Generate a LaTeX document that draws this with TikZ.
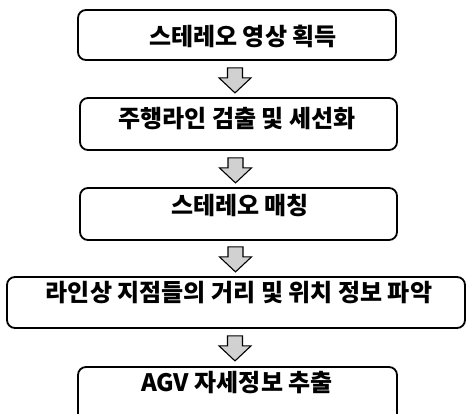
\documentclass[tikz,border=0pt]{standalone}
\usepackage{fontspec}
\newfontfamily\kr{Noto Sans CJK KR}
\usetikzlibrary{calc}
\begin{document}
\begin{tikzpicture}[x=1pt,y=-1pt,
  stepbox/.style={draw=black,line width=1.8pt,rounded corners=8pt,inner sep=0pt,minimum height=51pt},
  label/.style={font=\kr\bfseries\fontsize{24}{24}\selectfont,inner sep=0pt,anchor=center},
  arrowst/.style={draw=black,line width=1.1pt,fill=black!18,line join=miter},
  downarrow/.pic={\draw[arrowst] (-7.5,0) -- (7.5,0) -- (7.5,10) -- (16,10) -- (0,25) -- (-16,10) -- (-7.5,10) -- cycle;}]
\clip (0,0) rectangle (467,414);
\fill[white] (0,0) rectangle (467,414);
\node[stepbox,minimum width=318pt,minimum height=50pt] (b1) at (237,35) {};
\node[stepbox,minimum width=317pt,minimum height=52pt] (b2) at (238.5,124) {};
\node[stepbox,minimum width=317pt,minimum height=52pt] (b3) at (238.5,214) {};
\node[stepbox,minimum width=458pt,minimum height=51pt] (b4) at (236,302.5) {};
\node[stepbox,minimum width=319pt,minimum height=70pt] (b5) at (237.5,402) {};
\node[label] (t1) at (243,36) {스테레오 영상 획득};
\node[label] (t2) at (237,119) {주행라인 검출 및 세선화};
\node[label] (t3) at (240,206) {스테레오 매칭};
\node[label] (t4) at (239,293) {라인상 지점들의 거리 및 위치 정보 파악};
\node[label] (t5) at (237,383) {AGV 자세정보 추출};
\path ($(b1.south)+(-2,7)$) pic {downarrow};
\path ($(b2.south)+(-3,7)$) pic {downarrow};
\path ($(b3.south)+(-3,6)$) pic {downarrow};
\path ($(b4.south)+(-1,7)$) pic {downarrow};
\end{tikzpicture}
\end{document}
